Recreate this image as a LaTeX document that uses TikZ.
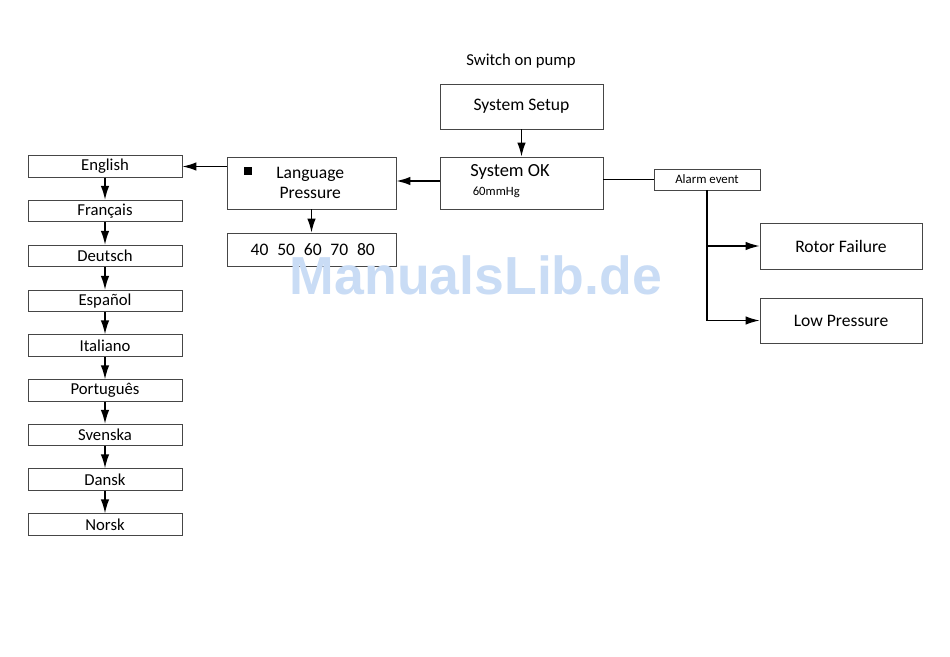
\documentclass[tikz,border=0pt]{standalone}
\usepackage{fontspec}
\setmainfont{Carlito}
\newfontfamily\markfont{Liberation Sans}
\usepackage{tikz}
\usetikzlibrary{calc}
\usetikzlibrary{arrows.meta}
\usetikzlibrary{positioning}
\definecolor{boxgray}{RGB}{70, 70, 70}
\definecolor{markblue}{RGB}{201, 220, 245}

\tikzset{
    menubox/.style   = {draw=boxgray, line width=0.45pt, inner sep=0pt, font=\fontsize{10}{12.5}\selectfont},
    langbox/.style   = {menubox, minimum width=3.08cm, minimum height=0.43cm, font=\fontsize{9.5}{11}\selectfont},
    flow/.style      = {line width=0.8pt, -{Latex[length=2.8mm, width=1.7mm]}},
    plainline/.style = {line width=0.6pt}
}

\begin{document}
\begin{tikzpicture}
            % Frame to ensure alignment:
            \useasboundingbox                                                 (0.00, 0.00) rectangle (19.00,-13.14);
            % Start of menu
            \node[font=\fontsize{9.5}{11}\selectfont] (switch)                at (10.42,-1.22) {Switch on pump};
            \node[menubox, minimum width=3.26cm, minimum height=0.90cm] (setup)  at (10.43,-2.13) {System Setup};
            \node[menubox, minimum width=3.26cm, minimum height=1.04cm] (sysok)  at (10.43,-3.66) {};
            \node[anchor=west, font=\fontsize{10.5}{12}\selectfont] (sysoktxt) at ([xshift=0.49cm, yshift=0.22cm]sysok.west) {System OK};
            \node[anchor=west, font=\fontsize{7.2}{9}\selectfont]   (mmhg)     at ([xshift=0.54cm, yshift=-0.18cm]sysok.west) {60mmHg};
            % Language / Pressure menu
            \node[menubox, minimum width=3.38cm, minimum height=1.04cm, align=center] (lang) at (6.23,-3.66)
                 {\hspace*{-0.05cm}Language\\[-1pt]\hspace*{-0.05cm}Pressure};
            \node[fill=black, inner sep=0pt, minimum size=0.15cm] (bullet)    at (4.96,-3.42) {};
            \node[menubox, minimum width=3.38cm, minimum height=0.66cm] (values) at (6.23,-4.99)
                 {\hspace*{0.05cm}40\hspace{0.5em}50\hspace{0.5em}60\hspace{0.5em}70\hspace{0.5em}80};
            % Alarm branch
            \node[menubox, minimum width=2.12cm, minimum height=0.42cm, font=\fontsize{7.3}{9}\selectfont] (alarm) at (14.14,-3.59) {Alarm event};
            \node[menubox, minimum width=3.24cm, minimum height=0.92cm] (rotor)  at (16.82,-4.92) {Rotor Failure};
            \node[menubox, minimum width=3.24cm, minimum height=0.90cm] (low)    at (16.82,-6.41) {Low Pressure};
            % Languages
            \node[langbox] (english)   at (2.10,-3.33)  {English};
            \node[langbox] (francais)  at (2.10,-4.22)  {Français};
            \node[langbox] (deutsch)   at (2.10,-5.12)  {Deutsch};
            \node[langbox] (espanol)   at (2.10,-6.02)  {Español};
            \node[langbox] (italiano)  at (2.10,-6.91)  {Italiano};
            \node[langbox] (portugues) at (2.10,-7.81)  {Português};
            \node[langbox] (svenska)   at (2.10,-8.70)  {Svenska};
            \node[langbox] (dansk)     at (2.10,-9.59)  {Dansk};
            \node[langbox] (norsk)     at (2.10,-10.49) {Norsk};
            % Connectors
            \draw[flow]      (setup.south)                 -- (sysok.north);
            \draw[flow]      ([yshift=0.04cm]sysok.west)   -- ([yshift=0.04cm]lang.east);
            \draw[flow]      (lang.west |- english.east)   -- (english.east);
            \draw[flow]      (lang.south)                  -- (values.north);
            \draw[plainline] (sysok.east |- alarm.west)    -- (alarm.west);
            \draw[plainline] (alarm.south)                 -- (alarm.south |- low.west);
            \draw[flow]      (alarm.south |- rotor.west)   -- (rotor.west);
            \draw[flow]      (alarm.south |- low.west)     -- (low.west);
            \draw[flow]      (english)   -- (francais);
            \draw[flow]      (francais)  -- (deutsch);
            \draw[flow]      (deutsch)   -- (espanol);
            \draw[flow]      (espanol)   -- (italiano);
            \draw[flow]      (italiano)  -- (portugues);
            \draw[flow]      (portugues) -- (svenska);
            \draw[flow]      (svenska)   -- (dansk);
            \draw[flow]      (dansk)     -- (norsk);
            % Watermark
            \node[text=markblue, font=\markfont\bfseries\fontsize{30.5}{36}\selectfont] (mark) at (9.52,-5.50) {ManualsLib.de};
\end{tikzpicture}
\end{document}
